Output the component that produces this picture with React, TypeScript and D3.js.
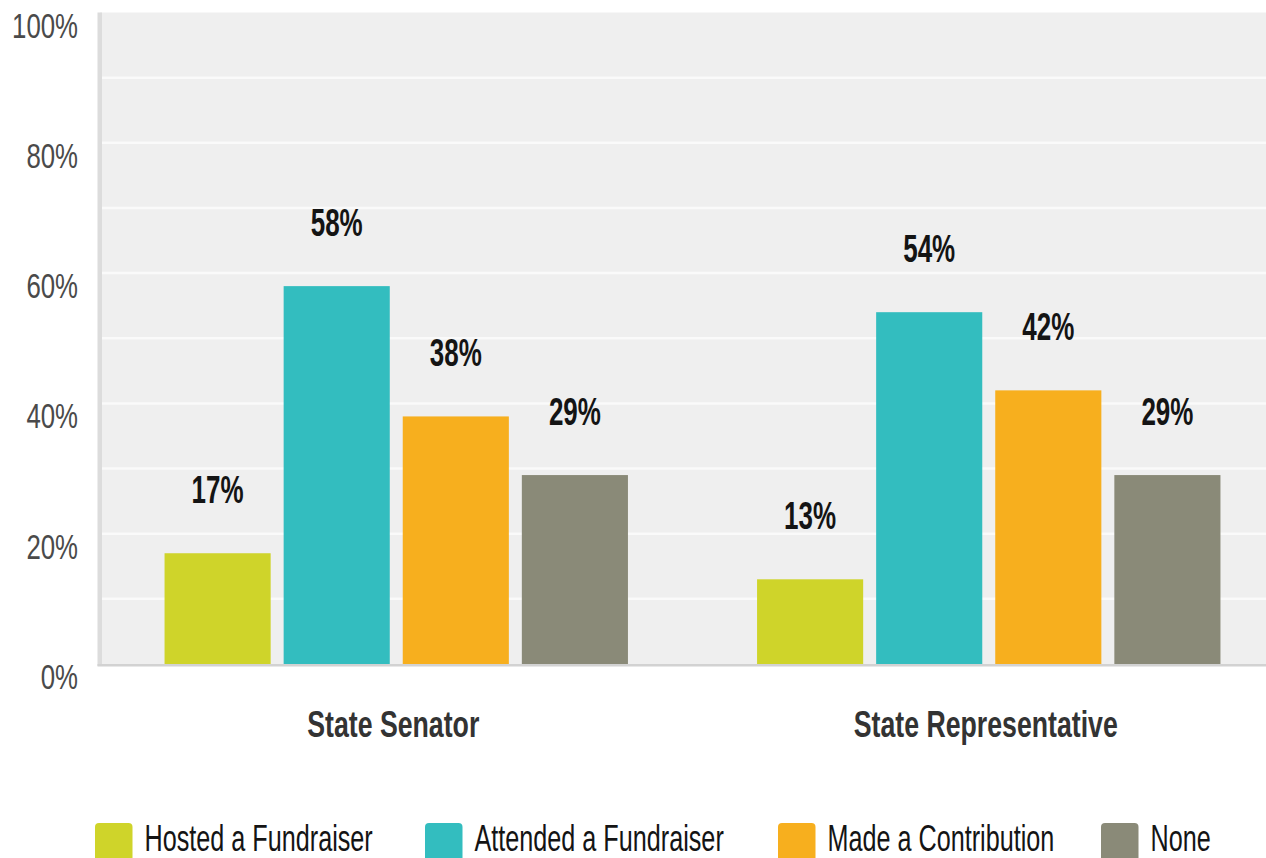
import React from "react";
import * as d3 from "d3";

const categories = ["State Senator", "State Representative"];
const seriesNames = ["Hosted a Fundraiser", "Attended a Fundraiser", "Made a Contribution", "None"];
const senatorValues = [17, 58, 38, 29];
const representativeValues = [13, 54, 42, 29];
const yTicks = [0, 20, 40, 60, 80, 100];
const gridTicks = [10, 20, 30, 40, 50, 60, 70, 80, 90];
const colors = ["#CFD42A", "#33BDBF", "#F7AF1E", "#8A8A78"];

const W = 1266;
const H = 858;

function SText({ x, y, k, size, weight, fill, anchor, children }: any) {
  return (
    <text
      transform={`translate(${x},${y}) scale(1,${k})`}
      fontFamily="'Liberation Sans', Arial, sans-serif"
      fontSize={size}
      fontWeight={weight}
      fill={fill}
      textAnchor={anchor}
    >
      {children}
    </text>
  );
}

export default function App() {
  const plotLeft = 100;
  const plotTop = 12.5;
  const plotBottom = 664;
  const values = [senatorValues, representativeValues];

  const x0 = d3.scaleBand<string>().domain(categories).range([100, 1285]).paddingInner(0).paddingOuter(0);
  const x1 = d3
    .scaleBand<string>()
    .domain(seriesNames)
    .range([0, x0.bandwidth()])
    .paddingInner(0.109)
    .paddingOuter(0.542);
  const y = d3.scaleLinear().domain([0, 100]).range([plotBottom, plotTop]);

  const legendX = [95, 425, 778, 1101];

  return (
    <svg
      width={W}
      height={H}
      style={{ position: "absolute", left: 0, top: 0, display: "block", background: "#fff" }}
    >
      <rect x={plotLeft} y={plotTop} width={W - plotLeft} height={plotBottom - plotTop} fill="#efefef" />
      {gridTicks.map((t) => (
        <line key={t} x1={plotLeft + 2} x2={W} y1={y(t)} y2={y(t)} stroke="#fafafa" strokeWidth={2.5} />
      ))}
      <rect x={97.5} y={plotTop} width={4.5} height={plotBottom - plotTop + 2} fill="#dcdcdc" />
      <rect x={97.5} y={plotBottom} width={W - 97.5} height={2.5} fill="#d2d2d2" />

      {yTicks.map((t) => (
        <SText key={t} x={78} y={y(t) + 25} k={1.35} size={25.8} weight="normal" fill="#4a4a4a" anchor="end">
          {`${t}%`}
        </SText>
      ))}

      {categories.map((c, ci) => (
        <g key={c}>
          {seriesNames.map((s, si) => {
            const v = values[ci][si];
            const bx = (x0(c) as number) + (x1(s) as number);
            return (
              <g key={s}>
                <rect x={bx} y={y(v)} width={x1.bandwidth()} height={plotBottom - y(v)} fill={colors[si]} />
                <SText
                  x={bx + x1.bandwidth() / 2}
                  y={y(v) - 50}
                  k={1.5}
                  size={26}
                  weight="bold"
                  fill="#141414"
                  anchor="middle"
                >
                  {`${v}%`}
                </SText>
              </g>
            );
          })}
          <SText
            x={(x0(c) as number) + x0.bandwidth() / 2 - 3}
            y={737}
            k={1.36}
            size={26.7}
            weight="bold"
            fill="#333"
            anchor="middle"
          >
            {c}
          </SText>
        </g>
      ))}

      {seriesNames.map((s, si) => (
        <g key={s}>
          <rect x={legendX[si]} y={823} width={37.5} height={45} rx={4} fill={colors[si]} />
          <SText x={legendX[si] + 49.5} y={851} k={1.45} size={25.2} weight="normal" fill="#141414" anchor="start">
            {s}
          </SText>
        </g>
      ))}
    </svg>
  );
}
